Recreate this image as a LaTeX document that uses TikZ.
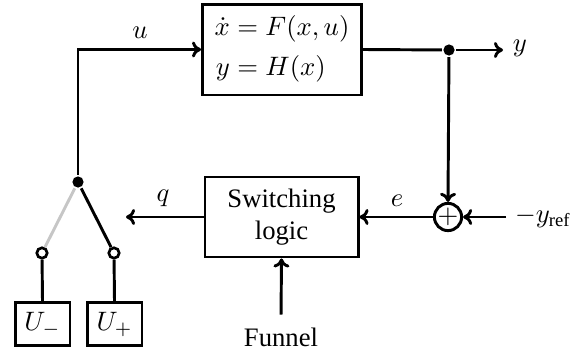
\documentclass[tikz,border=0pt]{standalone}
\usepackage{amsmath}
\usepackage{fontspec}
\setmainfont{Liberation Serif}
\usetikzlibrary{positioning, arrows.meta}

\begin{document}
\begin{tikzpicture}[x=0.375pt, y=-0.375pt, line width=1.1pt,
  >={To[length=3.4pt, width=6pt]},
  blk/.style={draw, rectangle, align=center, inner sep=0pt},
  tap/.style={circle, fill, inner sep=0pt, minimum size=4.2pt},
  term/.style={circle, draw, fill=white, inner sep=0pt, minimum size=3.9pt, line width=1pt},
  summ/.style={circle, draw, inner sep=0pt, minimum size=9pt}]

  \useasboundingbox (0,0) rectangle (584,350);

  % plant and output branch
  \node[blk, minimum width=59.6pt, minimum height=34.1pt] (plant) at (282,49.5)
    {$\begin{aligned}\dot x &= F(x,u)\\[0pt] y &= H(x)\end{aligned}$};
  \node[tap] (ytap) at (449,50) {};
  \coordinate (yout) at (503,50);
  \node (ylbl) at (520,48) {$y$};

  % error summation
  \node[summ] (sum) at (448,217) {$+$};
  \coordinate (yref) at (506,217);
  \node (reflbl) at (543,217) {$-y_{\mathrm{ref}}$};

  % switching logic
  \node[blk, minimum width=57.4pt, minimum height=30pt] (logic) at (281.5,217)
    {Switching\\logic};
  \node (funnel) at (281,337) {Funnel};
  \node (elbl) at (397,201) {$e$};
  \coordinate (qout) at (126,217);
  \node (qlbl) at (163,198) {$q$};

  % switch
  \node[tap] (hub) at (78,182) {};
  \node[term] (tminus) at (42,253) {};
  \node[term] (tplus) at (114,253) {};
  \node[blk, minimum width=20.6pt, minimum height=15.8pt] (uminus) at (42.5,324) {$U_-$};
  \node[blk, minimum width=20.6pt, minimum height=15.8pt] (uplus) at (114.5,324) {$U_+$};
  \node (ulbl) at (140,33) {$u$};

  \draw[->] (hub) |- (plant.west);
  \draw (plant.east) -- (ytap);
  \draw[->] (ytap) -- (yout);
  \draw[->] (ytap) -- (sum.north);
  \draw[->] (yref) -- (sum.east);
  \draw[->] (sum.west) -- (logic.east);
  \draw[->] (logic.west) -- (qout);
  \draw[->, shorten <=1pt] (funnel.north) -- (logic.south);

  \draw[gray!45] (hub) -- (tminus);
  \draw (hub) -- (tplus);
  \draw (tminus) -- (uminus.north);
  \draw (tplus) -- (uplus.north);
\end{tikzpicture}
\end{document}
